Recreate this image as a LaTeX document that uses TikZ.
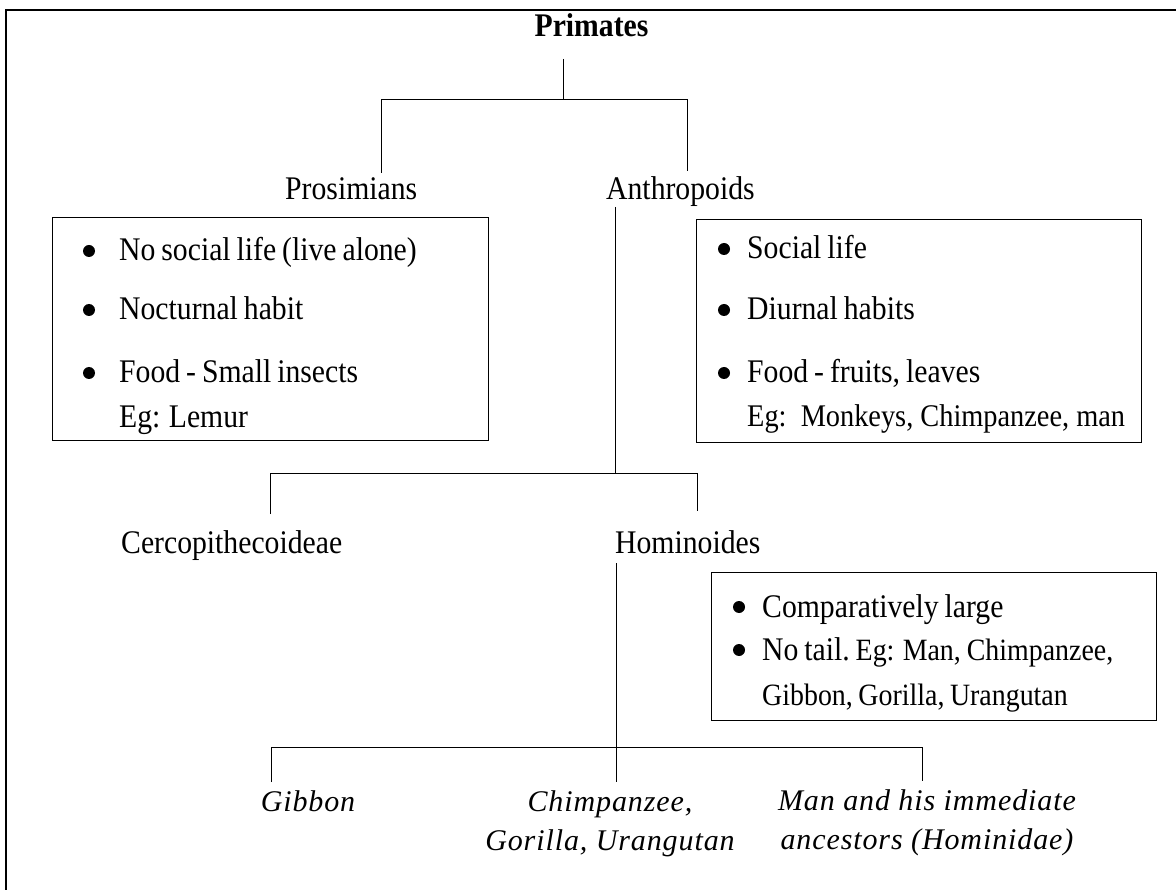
\documentclass[tikz,border=0pt]{standalone}
\usepackage{fontspec}
\setmainfont{Liberation Serif}[FakeStretch=0.9]
\newfontfamily\labfam{Liberation Serif}
\newcommand\tightsp{\spaceskip=0.18em plus 0.05em\relax}
\begin{document}
\begin{tikzpicture}[x=1pt,y=-1pt,
  lbl/.style={inner sep=0pt, anchor=base west, font=\fontsize{33}{39}\selectfont},
  boxtxt/.style={inner sep=0pt, anchor=base west, font=\fontsize{33}{39}\selectfont\tightsp},
  egtxt/.style={inner sep=0pt, anchor=base west, font=\fontsize{31.5}{37}\selectfont},
  ital/.style={inner sep=0pt, anchor=base, align=center, font=\labfam\fontsize{30}{39}\selectfont\itshape\addfontfeature{LetterSpace=3}},
  infobox/.style={draw, line width=1.2pt, inner sep=0pt, anchor=north west},
  blt/.style={fill, circle, inner sep=0pt, minimum size=12pt},
  tree/.style={line width=1pt}]
\useasboundingbox (0,0) rectangle (1176,890);
\begin{scope}
\clip (0,0) rectangle (1176,890);
\draw[line width=2.3pt] (6,10) rectangle (1210,920);
\end{scope}

% ---- level 1
\node[inner sep=0pt, anchor=base, font=\fontsize{33}{39}\selectfont\bfseries] (primates) at (591.5,37) {Primates};
\coordinate (p0) at (563,59);
\coordinate (p1) at (563,100);
\coordinate (pl) at (381,100);
\coordinate (pr) at (687,100);
\coordinate (plb) at (381,173);
\coordinate (prb) at (687,171);
\draw[tree] (p0) -- (p1);
\draw[tree] (plb) -- (pl) -- (pr) -- (prb);

\node[lbl] (pros) at (285,200) {Prosimians};
\node[lbl] (anth) at (606,200) {Anthropoids};

% ---- left box
\node[infobox, minimum width=436pt, minimum height=223pt] (lbox) at (52,217) {};
\node[blt] (lb1) at (89,251) {};
\node[boxtxt] (lt1) at (119,261) {No social life (live alone)};
\node[blt] (lb2) at (89,310) {};
\node[boxtxt] (lt2) at (119,320) {Nocturnal habit};
\node[blt] (lb3) at (89,373) {};
\node[boxtxt] (lt3) at (119,383) {Food - Small insects};
\node[boxtxt] (lt4) at (119,428) {Eg: Lemur};

% ---- right box
\node[infobox, minimum width=445pt, minimum height=223pt] (rbox) at (696,219) {};
\node[blt] (rb1) at (724,249) {};
\node[boxtxt] (rt1) at (747,259) {Social life};
\node[blt] (rb2) at (724,310) {};
\node[boxtxt] (rt2) at (747,320) {Diurnal habits};
\node[blt] (rb3) at (724,373) {};
\node[boxtxt] (rt3) at (747,383) {Food - fruits, leaves};
\node[egtxt] (rt4) at (747,427) {Eg:\ \ Monkeys, Chimpanzee, man};

% ---- level 2
\coordinate (a0) at (615,207);
\coordinate (a1) at (615,474);
\coordinate (al) at (270,474);
\coordinate (ar) at (697,474);
\coordinate (alb) at (270,514);
\coordinate (arb) at (697,511);
\draw[tree] (a0) -- (a1);
\draw[tree] (alb) -- (al) -- (ar) -- (arb);

\node[lbl] (cerc) at (121,553) {Cercopithecoideae};
\node[lbl] (homs) at (615,553) {Hominoides};

% ---- lower box
\node[infobox, minimum width=445pt, minimum height=148pt] (hbox) at (711,572) {};
\node[blt] (hb1) at (739,607) {};
\node[boxtxt] (ht1) at (762,617) {Comparatively large};
\node[blt] (hb2) at (739,650) {};
\node[boxtxt] (ht2) at (762,660) {No tail.\fontsize{31}{37}\selectfont\ Eg: Man, Chimpanzee,};
\node[egtxt, font=\fontsize{31}{37}\selectfont\tightsp] (ht3) at (762,705) {Gibbon, Gorilla, Urangutan};

% ---- level 3
\coordinate (h0) at (616,563);
\coordinate (h1) at (616,747);
\coordinate (hm) at (616,782);
\coordinate (hl) at (271,747);
\coordinate (hr) at (922,747);
\coordinate (hlb) at (271,782);
\coordinate (hrb) at (922,781);
\draw[tree] (h0) -- (hm);
\draw[tree] (hlb) -- (hl) -- (hr) -- (hrb);

\node[ital] (gib) at (308,811) {Gibbon};
\node[ital] (chim) at (610,850) {Chimpanzee,\\Gorilla, Urangutan};
\node[ital] (man) at (927,849) {Man and his immediate\\ancestors (Hominidae)};
\end{tikzpicture}
\end{document}
